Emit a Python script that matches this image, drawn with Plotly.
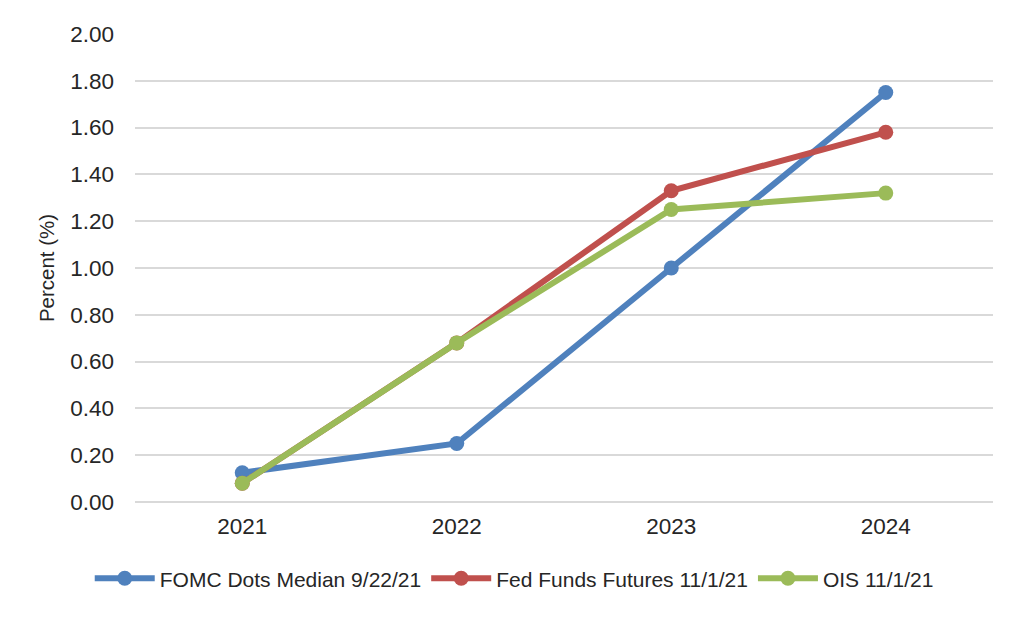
import plotly.graph_objects as go

years = ["2021", "2022", "2023", "2024"]
fomc = [0.125, 0.25, 1.00, 1.75]
fff = [0.08, 0.68, 1.33, 1.58]
ois = [0.08, 0.68, 1.25, 1.32]
yticks = [0, 0.2, 0.4, 0.6, 0.8, 1.0, 1.2, 1.4, 1.6, 1.8, 2.0]

series = [
    ("FOMC Dots Median 9/22/21", fomc, "#4F81BD"),
    ("Fed Funds Futures 11/1/21", fff, "#C0504D"),
    ("OIS 11/1/21", ois, "#9BBB59"),
]

fig = go.Figure()
for name, vals, col in series:
    fig.add_trace(go.Scatter(
        x=years, y=vals, name=name, mode="lines+markers",
        line=dict(color=col, width=6),
        marker=dict(color=col, size=15),
    ))

FONT = "Liberation Sans, Arial, sans-serif"
fig.update_layout(
    width=1024, height=618,
    margin=dict(l=127, r=39, t=26, b=124),
    paper_bgcolor="white", plot_bgcolor="white",
    font=dict(family=FONT, size=22, color="#262626"),
    showlegend=True,
    legend=dict(orientation="h", x=0.442, xanchor="center", y=-0.12, yanchor="top",
                font=dict(size=21, color="#262626"), itemwidth=60),
    xaxis=dict(type="category", range=[-0.5, 3.5], showgrid=False, showline=False,
               ticks="", tickfont=dict(size=22.5), zeroline=False,
               ticklabelstandoff=8),
    yaxis=dict(range=[0, 2.0], tickvals=yticks, tickformat=".2f",
               showgrid=True, gridcolor="#D9D9D9", gridwidth=2, zeroline=True,
               zerolinecolor="#D9D9D9", zerolinewidth=2, showline=False, ticks="",
               ticklabelstandoff=20,
               title=dict(text="Percent (%)", font=dict(size=20.5), standoff=10),
               tickfont=dict(size=22.5)),
)

fig.write_html("out.html")
